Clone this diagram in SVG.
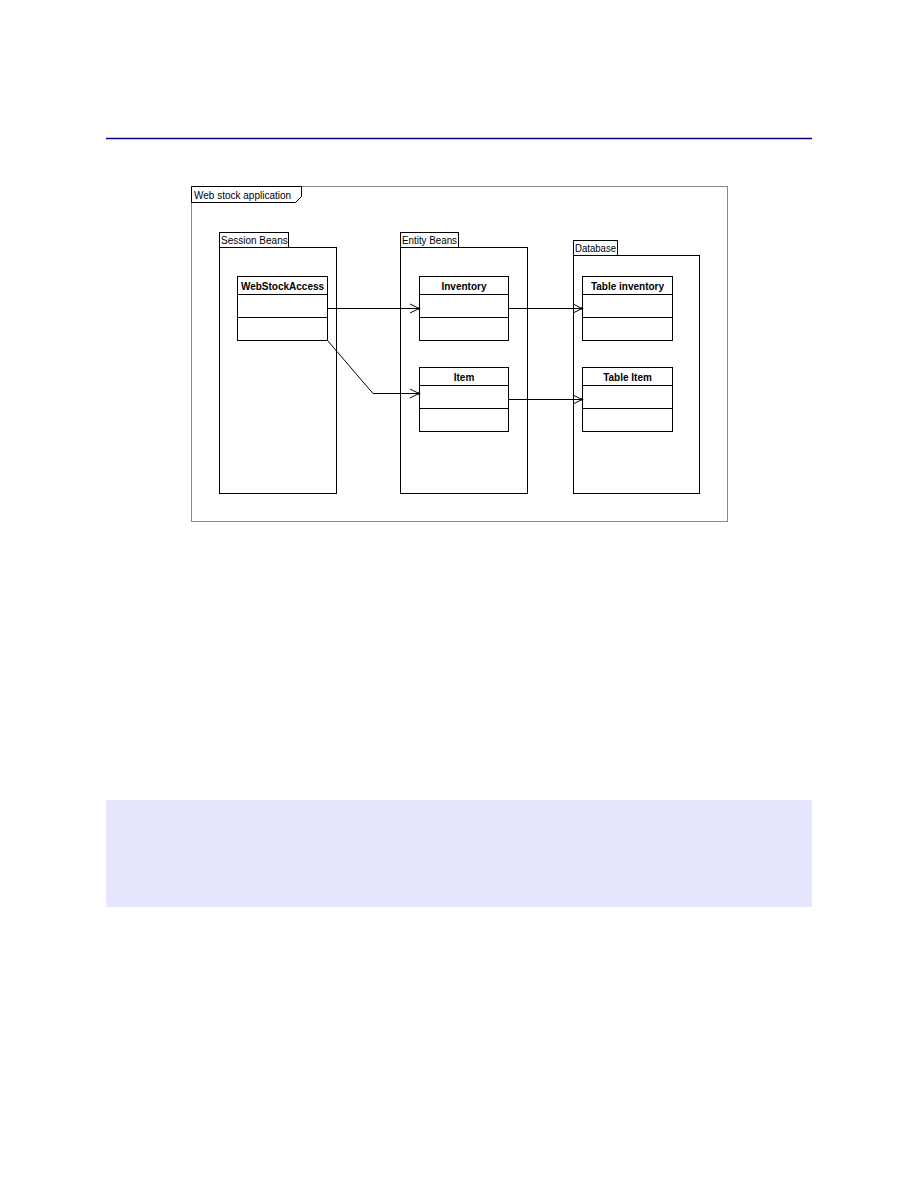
<svg xmlns="http://www.w3.org/2000/svg" width="918" height="1188" viewBox="0 0 918 1188">
<style>
  .pkg { fill: #ffffff; stroke: #000000; stroke-width: 1; }
  .cls { fill: #ffffff; stroke: #000000; stroke-width: 1; }
  .div { stroke: #000000; stroke-width: 1; }
  .plabel { font-family: "Liberation Sans", Arial, sans-serif; font-size: 10px; fill: #000000; }
  .cname { font-family: "Liberation Sans", Arial, sans-serif; font-size: 10px; font-weight: bold; fill: #000000; text-anchor: middle; }
  .conn { fill: none; stroke: #000000; stroke-width: 1; }
</style>
<defs>
  <marker id="openArrow" markerUnits="userSpaceOnUse" markerWidth="12" markerHeight="12" viewBox="0 0 12 12" refX="10" refY="6" orient="auto">
    <path d="M1,1.5 L10,6 L1,10.5" fill="none" stroke="#000000" stroke-width="1"/>
    <circle cx="10" cy="6" r="1.3" fill="#000000"/>
  </marker>
</defs>
<rect x="0" y="0" width="918" height="1188" fill="#ffffff"/>
<line x1="106" y1="138.5" x2="812" y2="138.5" stroke="#000080" stroke-width="1.3"/>
<rect x="106" y="800" width="706" height="107" fill="#e6e6ff"/>

<g id="frame">
  <rect x="191.5" y="186.5" width="536" height="335" fill="#ffffff" stroke="#888888" stroke-width="1"/>
  <path d="M191.5,186.5 H301.5 V196.5 L295.5,202.5 H191.5 Z" fill="#ffffff" stroke="#000000" stroke-width="1"/>
  <text class="plabel" x="194" y="199">Web stock application</text>
</g>

<g id="session-beans">
  <rect class="pkg" x="219.5" y="232.5" width="69" height="15"/>
  <rect class="pkg" x="219.5" y="247.5" width="117" height="246"/>
  <text class="plabel" x="221" y="244">Session Beans</text>
</g>

<g id="entity-beans">
  <rect class="pkg" x="400.5" y="232.5" width="58" height="15"/>
  <rect class="pkg" x="400.5" y="247.5" width="127" height="246"/>
  <text class="plabel" x="402" y="244" textLength="55" lengthAdjust="spacingAndGlyphs">Entity Beans</text>
</g>

<g id="database">
  <rect class="pkg" x="573.5" y="240.5" width="44" height="15"/>
  <rect class="pkg" x="573.5" y="255.5" width="126" height="238"/>
  <text class="plabel" x="575" y="252" textLength="41" lengthAdjust="spacingAndGlyphs">Database</text>
</g>

<g id="webstockaccess">
  <rect class="cls" x="237.5" y="276.5" width="90" height="64"/>
  <line class="div" x1="237.5" y1="294.5" x2="327.5" y2="294.5"/>
  <line class="div" x1="237.5" y1="317.5" x2="327.5" y2="317.5"/>
  <text class="cname" x="282.5" y="290">WebStockAccess</text>
</g>

<g id="inventory">
  <rect class="cls" x="419.5" y="276.5" width="89" height="64"/>
  <line class="div" x1="419.5" y1="294.5" x2="508.5" y2="294.5"/>
  <line class="div" x1="419.5" y1="317.5" x2="508.5" y2="317.5"/>
  <text class="cname" x="464" y="290">Inventory</text>
</g>

<g id="item">
  <rect class="cls" x="419.5" y="367.5" width="89" height="64"/>
  <line class="div" x1="419.5" y1="385.5" x2="508.5" y2="385.5"/>
  <line class="div" x1="419.5" y1="408.5" x2="508.5" y2="408.5"/>
  <text class="cname" x="464" y="381">Item</text>
</g>

<g id="table-inventory">
  <rect class="cls" x="582.5" y="276.5" width="90" height="64"/>
  <line class="div" x1="582.5" y1="294.5" x2="672.5" y2="294.5"/>
  <line class="div" x1="582.5" y1="317.5" x2="672.5" y2="317.5"/>
  <text class="cname" x="627.5" y="290">Table inventory</text>
</g>

<g id="table-item">
  <rect class="cls" x="582.5" y="367.5" width="90" height="64"/>
  <line class="div" x1="582.5" y1="385.5" x2="672.5" y2="385.5"/>
  <line class="div" x1="582.5" y1="408.5" x2="672.5" y2="408.5"/>
  <text class="cname" x="627.5" y="381">Table Item</text>
</g>

<g id="connectors">
  <line class="conn" x1="327.5" y1="308.5" x2="419" y2="308.5" marker-end="url(#openArrow)"/>
  <polyline class="conn" points="327.5,340.5 373,393.5 419,393.5" marker-end="url(#openArrow)"/>
  <line class="conn" x1="508.5" y1="308.5" x2="582" y2="308.5" marker-end="url(#openArrow)"/>
  <line class="conn" x1="508.5" y1="399.5" x2="582" y2="399.5" marker-end="url(#openArrow)"/>
</g>
</svg>
